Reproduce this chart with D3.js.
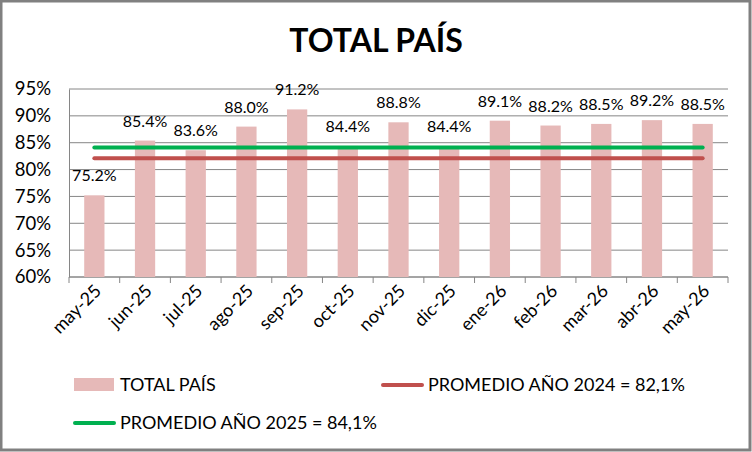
<!DOCTYPE html>
<html>
<head>
<meta charset="utf-8">
<script src="https://cdn.jsdelivr.net/npm/d3@7"></script>
<style>
  body { margin: 0; background: #fff; }
  svg { display: block; font-family: Lato, "Open Sans", sans-serif; }
</style>
</head>
<body>
<div id="chart"></div>
<script>
const months = ['may-25', 'jun-25', 'jul-25', 'ago-25', 'sep-25', 'oct-25', 'nov-25',
  'dic-25', 'ene-26', 'feb-26', 'mar-26', 'abr-26', 'may-26'];
const totalPais = [75.2, 85.4, 83.6, 88.0, 91.2, 84.4, 88.8, 84.4, 89.1, 88.2, 88.5, 89.2, 88.5];
const promedio2024 = 82.1;
const promedio2025 = 84.1;
const yTicks = [60, 65, 70, 75, 80, 85, 90, 95];

const W = 752, H = 452;
const margin = { top: 89, right: 24, bottom: 175, left: 69 };
const innerW = W - margin.left - margin.right;
const innerH = H - margin.top - margin.bottom;

const svg = d3.select('#chart').append('svg')
  .attr('width', W)
  .attr('height', H);

// chart border
svg.append('rect')
  .attr('x', 1).attr('y', 1)
  .attr('width', W - 3).attr('height', H - 3)
  .attr('fill', '#fff')
  .attr('stroke', '#808080')
  .attr('stroke-width', 3);

svg.append('text')
  .attr('x', 376)
  .attr('y', 52)
  .attr('text-anchor', 'middle')
  .attr('font-size', 32)
  .attr('font-weight', 'bold')
  .attr('fill', '#000')
  .text('TOTAL PAÍS');

const g = svg.append('g').attr('transform', `translate(${margin.left},${margin.top})`);

const x = d3.scaleBand().domain(months).range([0, innerW]).paddingInner(0.6).paddingOuter(0.3);
const y = d3.scaleLinear().domain([60, 95]).range([innerH, 0]);

// gridlines
g.append('g')
  .selectAll('line')
  .data(yTicks)
  .join('line')
  .attr('x1', 0).attr('x2', innerW)
  .attr('y1', (d) => y(d)).attr('y2', (d) => y(d))
  .attr('stroke', '#868686')
  .attr('stroke-width', 1);

// y axis
const yAxis = g.append('g')
  .call(d3.axisLeft(y).tickValues(yTicks).tickFormat((d) => d + '%').tickSize(0).tickPadding(18));
yAxis.select('.domain').attr('stroke', '#868686');
yAxis.selectAll('text').attr('font-size', 18.5).attr('fill', '#000').attr('font-family', 'Lato, sans-serif');

// x axis with ticks between categories
const xAxisG = g.append('g').attr('transform', `translate(0,${innerH})`);
xAxisG.append('line')
  .attr('x1', 0).attr('x2', innerW)
  .attr('stroke', '#868686');
xAxisG.selectAll('.tick')
  .data(d3.range(months.length + 1))
  .join('line')
  .attr('x1', (i) => i * innerW / months.length)
  .attr('x2', (i) => i * innerW / months.length)
  .attr('y1', 0).attr('y2', 6)
  .attr('stroke', '#868686');
xAxisG.selectAll('text')
  .data(months)
  .join('text')
  .attr('transform', (d) => `translate(${x(d) + x.bandwidth() / 2 + 8},${15}) rotate(-45)`)
  .attr('text-anchor', 'end')
  .attr('font-size', 18)
  .attr('fill', '#000')
  .text((d) => d);

// bars
g.selectAll('.bar')
  .data(totalPais)
  .join('rect')
  .attr('class', 'bar')
  .attr('x', (d, i) => x(months[i]))
  .attr('y', (d) => y(d))
  .attr('width', x.bandwidth())
  .attr('height', (d) => innerH - y(d))
  .attr('fill', '#E6B9B8');

// data labels
g.selectAll('.lbl')
  .data(totalPais)
  .join('text')
  .attr('class', 'lbl')
  .attr('x', (d, i) => x(months[i]) + x.bandwidth() / 2)
  .attr('y', (d) => y(d) - 14)
  .attr('text-anchor', 'middle')
  .attr('font-size', 16)
  .attr('fill', '#000')
  .text((d) => d.toFixed(1) + '%');

// average lines
const cx = (m) => x(m) + x.bandwidth() / 2;
[[promedio2025, '#00B050'], [promedio2024, '#C0504D']].forEach(([v, c]) => {
  g.append('path')
    .datum(months)
    .attr('d', d3.line().x((d) => cx(d)).y(() => y(v)))
    .attr('stroke', c)
    .attr('stroke-width', 4)
    .attr('stroke-linecap', 'round')
    .attr('fill', 'none');
});

// legend
const leg = svg.append('g').attr('font-size', 18);
leg.append('rect')
  .attr('x', 74).attr('y', 378).attr('width', 40).attr('height', 13)
  .attr('fill', '#E6B9B8');
leg.append('text').attr('x', 120).attr('y', 391).text('TOTAL PAÍS');

leg.append('line')
  .attr('x1', 383).attr('x2', 422).attr('y1', 385).attr('y2', 385)
  .attr('stroke', '#C0504D').attr('stroke-width', 4).attr('stroke-linecap', 'round');
leg.append('text').attr('x', 428).attr('y', 391).text('PROMEDIO AÑO 2024 = 82,1%');

leg.append('line')
  .attr('x1', 75).attr('x2', 114).attr('y1', 423).attr('y2', 423)
  .attr('stroke', '#00B050').attr('stroke-width', 4).attr('stroke-linecap', 'round');
leg.append('text').attr('x', 120).attr('y', 429).text('PROMEDIO AÑO 2025 = 84,1%');
</script>
</body>
</html>
